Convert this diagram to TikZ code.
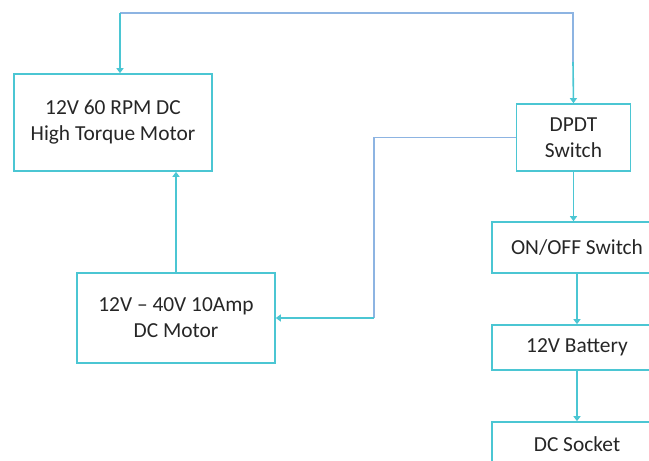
\documentclass[tikz,border=0pt]{standalone}
\usepackage{fontspec}
\setmainfont{Carlito}
\usetikzlibrary{arrows.meta}
\definecolor{boxcyan}{HTML}{4BC6D3}
\definecolor{wireblue}{HTML}{8DB4E2}
\begin{document}
\begin{tikzpicture}[x=0.5pt,y=-0.5pt,
    blk/.style={draw=boxcyan,line width=0.8pt,align=center,inner sep=0pt,
      font=\fontsize{10.7}{13}\selectfont,text=black!85},
    wire/.style={draw=wireblue,line width=0.8pt},
    feed/.style={draw=boxcyan,line width=0.8pt,-{Triangle[length=2.5pt,width=3.5pt]}}]
  \useasboundingbox (0,0) rectangle (649,461);
  \clip (0,0) rectangle (649,461);
  \node[blk,minimum width=99pt,minimum height=48.5pt] (torque) at (113,122.5)
    {12V 60 RPM DC\\High Torque Motor};
  \node[blk,minimum width=99pt,minimum height=45pt] (dcmotor) at (176,318)
    {12V -- 40V 10Amp\\DC Motor};
  \node[blk,minimum width=57pt,minimum height=33.5pt] (dpdt) at (573.5,137.5)
    {DPDT\\Switch};
  \foreach \n/\y/\h/\t in {onoff/247.5/25.5/{ON/OFF Switch},
      battery/347.5/22.5/{12V Battery},socket/444.5/22.5/{DC Socket}}
    \node[blk,minimum width=85pt,minimum height=\h pt] (\n) at (577,\y) {\t};
  % wires
  \coordinate (tl) at (120,13);
  \coordinate (tr) at (573,13);
  \coordinate (tm) at (573,62);
  \coordinate (bend) at (374,318);
  \draw[wire] (tm) -- (tr) -- (tl);
  \draw[feed] (tl) -- (tl |- torque.north);
  \draw[feed] (tm) -- (dpdt.north);
  \draw[feed] (dcmotor.north) -- (dcmotor.north |- torque.south);
  \draw[wire] (dpdt.west) -| (bend);
  \draw[feed] (bend) -- (dcmotor.east);
  \draw[feed] (dpdt.south) -- (dpdt.south |- onoff.north);
  \draw[feed] (onoff) -- (battery);
  \draw[feed] (battery) -- (socket);
\end{tikzpicture}
\end{document}
